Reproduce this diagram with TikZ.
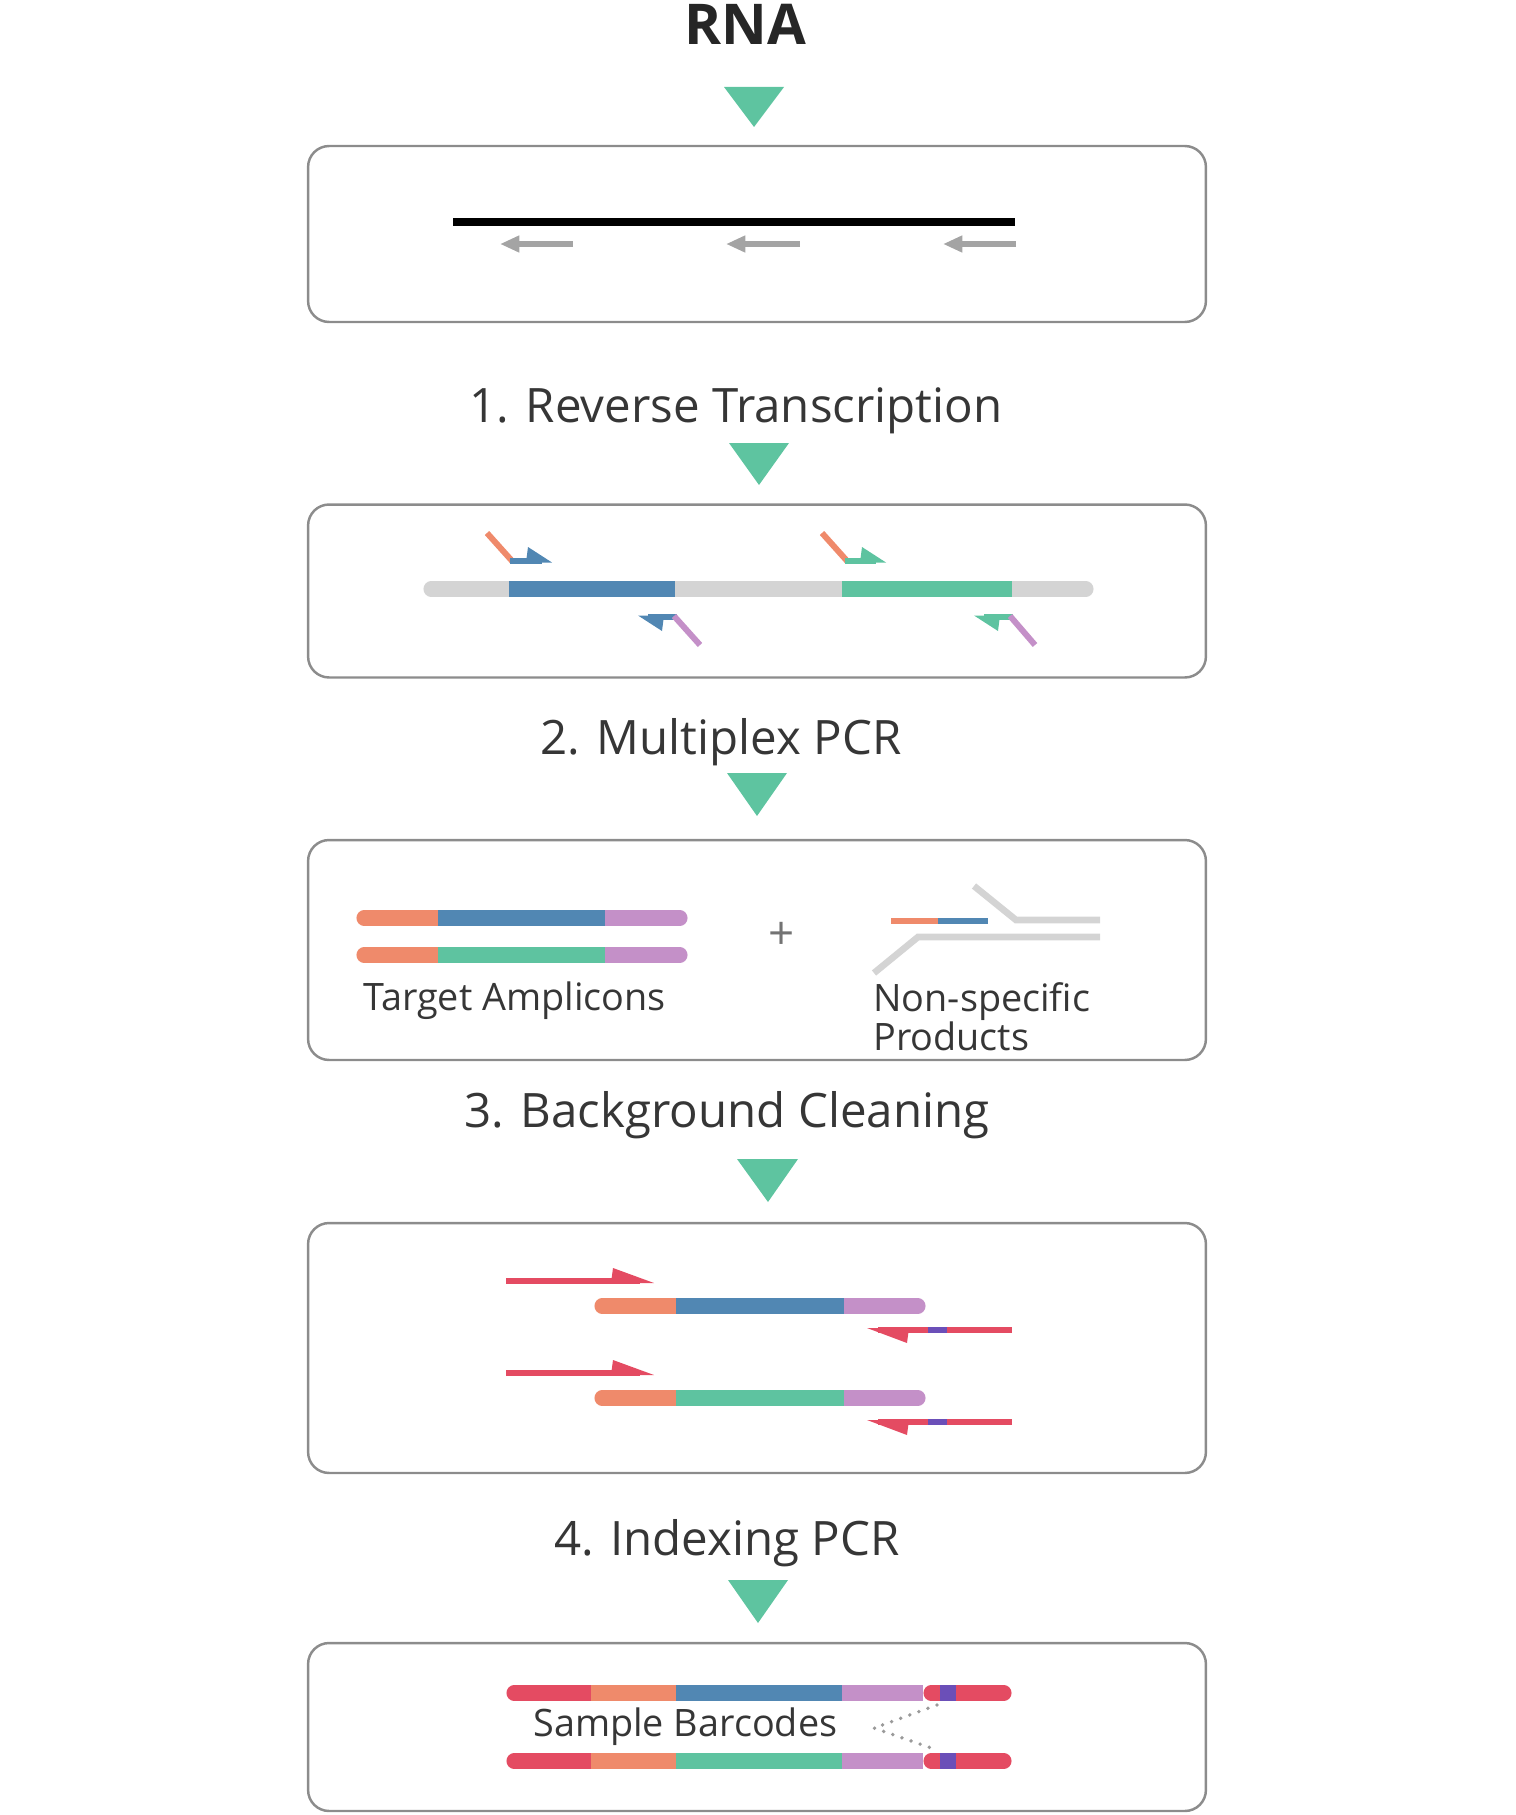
\documentclass[tikz,border=0pt]{standalone}
\usepackage{fontspec}
\setmainfont{Open Sans}
\usetikzlibrary{arrows.meta}

\definecolor{arrowteal}{HTML}{5EC4A0}
\definecolor{ampblue}{HTML}{5187B3}
\definecolor{ampgreen}{HTML}{5EC3A0}
\definecolor{amporange}{HTML}{EF8A6B}
\definecolor{amppurple}{HTML}{C490C8}
\definecolor{ampred}{HTML}{E44B62}
\definecolor{barcode}{HTML}{6B4FB8}
\definecolor{strandgray}{HTML}{D4D4D4}
\definecolor{primgray}{HTML}{A4A4A4}
\definecolor{boxgray}{HTML}{8C8C8C}
\definecolor{txtgray}{HTML}{363636}
\definecolor{dotgray}{HTML}{9A9A9A}

\begin{document}
\begin{tikzpicture}[
		x=0.02cm, y=-0.02cm,
		every node/.style={text=txtgray, inner sep=0pt},
		box/.style={draw=boxgray, line width=1.4pt, rounded corners=0.42cm, minimum width=17.96cm},
		steplabel/.style={font=\fontsize{27}{32}\selectfont, anchor=base},
		smalllabel/.style={font=\fontsize{21.5}{25}\selectfont, anchor=base west},
		down/.style={fill=arrowteal},
		strand/.style={line width=8.6pt},
		endl/.style={strand, line cap=round},
		primer/.style={line width=3.4pt},
		rtarrow/.style={primgray, line width=3.2pt, -{Triangle[length=11pt, width=9pt]}},
		junk/.style={strandgray, line width=3.8pt},
		dots/.style={dotgray, line width=2.2pt, line cap=round, dash pattern=on 0pt off 5.5pt}
		]
		
		\useasboundingbox (0,0) rectangle (1515,1815);
		
		% -------- Title and step labels --------
		\node[font=\fontsize{32}{38}\selectfont\bfseries, text=black!85] (rna) at (745,24) {RNA};
		\node[steplabel] (rt) at (736,422) {1. Reverse Transcription};
		\node[steplabel] (mpcr) at (721,754) {2. Multiplex PCR};
		\node[steplabel] (clean) at (727,1127) {3. Background Cleaning};
		\node[steplabel] (ipcr) at (727,1555) {4. Indexing PCR};
		
		% -------- Step triangles --------
		\fill[down] (724,87) -- (784,87) -- (754,127) -- cycle;
		\fill[down] (729,443) -- (789,443) -- (759,485) -- cycle;
		\fill[down] (727,773) -- (787,773) -- (757,816) -- cycle;
		\fill[down] (737,1159) -- (798,1159) -- (768,1202) -- cycle;
		\fill[down] (728,1580) -- (788,1580) -- (758,1623) -- cycle;
		
		% -------- Boxes --------
		\node[box, minimum height=3.52cm] (box1) at (757,234) {};
		\node[box, minimum height=3.46cm] (box2) at (757,591) {};
		\node[box, minimum height=4.40cm] (box3) at (757,950) {};
		\node[box, minimum height=5.00cm] (box4) at (757,1348) {};
		\node[box, minimum height=3.36cm] (box5) at (757,1727) {};
		
		% ---- Box 1: RNA and RT primers ----
		\draw[line width=4.2pt] (453,222) -- (1015,222);
		\draw[rtarrow] (573,244) -- (500,244);
		\draw[rtarrow] (800,244) -- (726,244);
		\draw[rtarrow] (1016,244) -- (943,244);
		
		% ---- Box 2: cDNA with target primers ----
		\draw[endl, strandgray] (431,589) -- (1086,589);
		\draw[strand, ampblue] (509,589) -- (675,589);
		\draw[strand, ampgreen] (842,589) -- (1012,589);
		% forward primers
		\draw[primer, amporange] (487,533) -- (513,562);
		\draw[primer, ampblue] (510,561) -- (542,561);
		\fill[ampblue] (552,562.5) -- (528,547) -- (526,562.5) -- cycle;
		\draw[primer, amporange] (822,533) -- (848,562);
		\draw[primer, ampgreen] (845,561) -- (876,561);
		\fill[ampgreen] (886,562.5) -- (862,547) -- (860,562.5) -- cycle;
		% reverse primers
		\draw[primer, ampblue] (648,617) -- (677,617);
		\fill[ampblue] (638,615.5) -- (662,631) -- (664,615.5) -- cycle;
		\draw[primer, amppurple] (674,616) -- (700,645);
		\draw[primer, ampgreen] (984,617) -- (1013,617);
		\fill[ampgreen] (974,615.5) -- (998,631) -- (1000,615.5) -- cycle;
		\draw[primer, amppurple] (1010,616) -- (1035,645);
		
		% ---- Box 3: amplicons and by-products ----
		\draw[endl, amporange] (364,918) -- (438,918);
		\draw[endl, amppurple] (605,918) -- (680,918);
		\draw[strand, ampblue] (438,918) -- (605,918);
		\draw[endl, amporange] (364,955) -- (438,955);
		\draw[endl, amppurple] (605,955) -- (680,955);
		\draw[strand, ampgreen] (438,955) -- (605,955);
		\node[smalllabel] (amp) at (363,1010) {Target Amplicons};
		\node[font=\fontsize{26}{30}\selectfont, text=black!55] (plus) at (782,936) {+};
		\draw[line width=3.8pt, amporange] (891,921) -- (938,921);
		\draw[line width=3.8pt, ampblue] (938,921) -- (988,921);
		\draw[junk] (974,886) -- (1016,920) -- (1100,920);
		\draw[junk] (1100,937) -- (918,937) -- (874,973);
		\node[smalllabel] (nsp) at (873,1011) {Non-specific};
		\node[smalllabel] (prod) at (873,1050) {Products};
		
		% ---- Box 4: indexing primers ----
		\draw[primer, ampred] (506,1281) -- (640,1281);
		\fill[ampred] (654,1283) -- (613,1268) -- (611,1283) -- cycle;
		\draw[endl, amporange] (602,1306) -- (676,1306);
		\draw[endl, amppurple] (844,1306) -- (918,1306);
		\draw[strand, ampblue] (676,1306) -- (844,1306);
		\draw[primer, ampred] (878,1330) -- (1012,1330);
		\fill[ampred] (867,1328) -- (907,1343) -- (909,1328) -- cycle;
		\draw[primer, barcode] (928,1330) -- (947,1330);
		
		\draw[primer, ampred] (506,1373) -- (640,1373);
		\fill[ampred] (654,1375) -- (613,1360) -- (611,1375) -- cycle;
		\draw[endl, amporange] (602,1398) -- (676,1398);
		\draw[endl, amppurple] (844,1398) -- (918,1398);
		\draw[strand, ampgreen] (676,1398) -- (844,1398);
		\draw[primer, ampred] (878,1422) -- (1012,1422);
		\fill[ampred] (867,1420) -- (907,1435) -- (909,1420) -- cycle;
		\draw[primer, barcode] (928,1422) -- (947,1422);
		
		% ---- Box 5: indexed libraries ----
		\draw[endl, ampred] (514,1693) -- (591,1693);
		\draw[endl, ampred] (931,1693) -- (1004,1693);
		\draw[strand, amporange] (591,1693) -- (676,1693);
		\draw[strand, ampblue] (676,1693) -- (842,1693);
		\draw[strand, amppurple] (842,1693) -- (923,1693);
		\draw[strand, barcode] (940,1693) -- (956,1693);
		
		\draw[endl, ampred] (514,1761) -- (591,1761);
		\draw[endl, ampred] (931,1761) -- (1004,1761);
		\draw[strand, amporange] (591,1761) -- (676,1761);
		\draw[strand, ampgreen] (676,1761) -- (842,1761);
		\draw[strand, amppurple] (842,1761) -- (923,1761);
		\draw[strand, barcode] (940,1761) -- (956,1761);
		
		\coordinate (bc1) at (937,1705);
		\coordinate (bc2) at (937,1750);
		\coordinate (bctip) at (874,1728);
		\draw[dots] (bc1) -- (bctip) -- (bc2);
		\node[smalllabel] (bc) at (533,1736) {Sample Barcodes};
		
	\end{tikzpicture}
\end{document}
